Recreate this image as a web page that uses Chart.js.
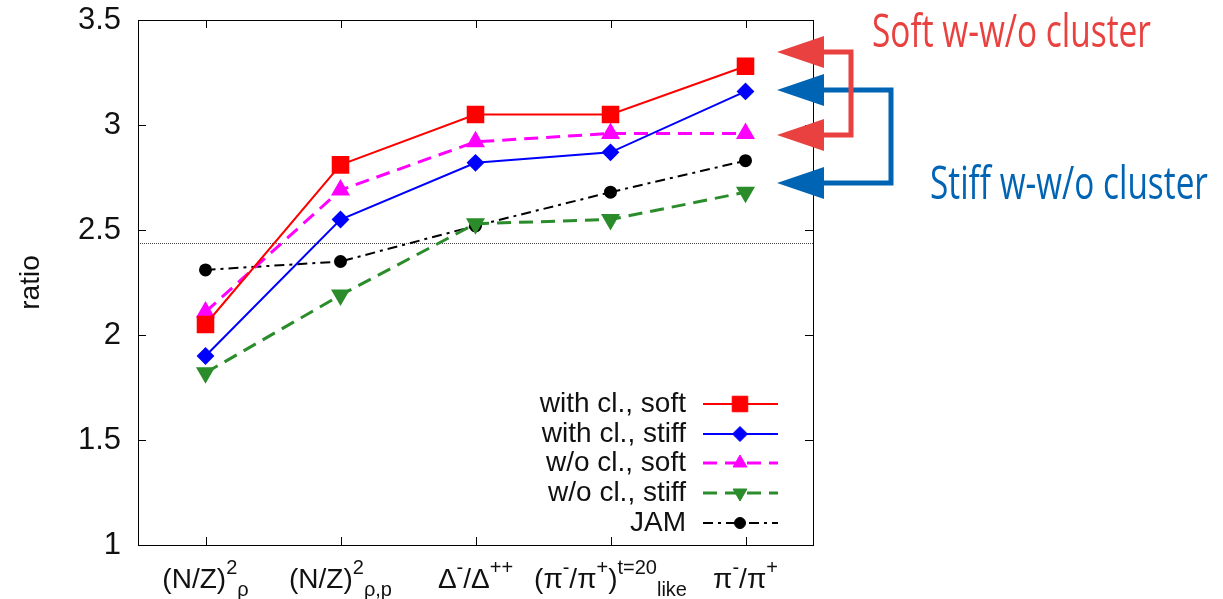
<!DOCTYPE html>
<html><head><meta charset="utf-8">
<script src="https://cdn.jsdelivr.net/npm/chart.js@4/dist/chart.umd.min.js"></script>
<style>html,body{margin:0;padding:0;background:#fff}#wrap{width:1223px;height:599px;position:relative}</style>
</head><body><div id="wrap"><canvas id="c" width="1223" height="599"></canvas></div>
<script>
// ---- data ----
const categories = ['(N/Z)^{2}_{ρ}', '(N/Z)^{2}_{ρ,p}', 'Δ^{-}/Δ^{++}', '(π^{-}/π^{+})^{t=20}_{like}', 'π^{-}/π^{+}'];
const withClSoft  = [2.05, 2.81, 3.05, 3.05, 3.28];
const withClStiff = [1.90, 2.55, 2.82, 2.87, 3.16];
const woClSoft    = [2.11, 2.69, 2.92, 2.96, 2.96];
const woClStiff   = [1.82, 2.19, 2.53, 2.55, 2.68];
const jamValues   = [2.31, 2.35, 2.52, 2.68, 2.83];
const seriesLabels = ['with cl., soft', 'with cl., stiff', 'w/o cl., soft', 'w/o cl., stiff', 'JAM'];
const yTickValues = [1, 1.5, 2, 2.5, 3, 3.5];
const yTickLabels = ['1', '1.5', '2', '2.5', '3', '3.5'];
const referenceLevel = 2.44;
const yTitle = 'ratio';
const annotationTexts = ['Soft w-w/o cluster', 'Stiff w-w/o cluster'];

// ---- styles ----
const FONT = "'Liberation Sans', Arial, Helvetica, sans-serif";
const FS = 28;
const TICK_FS = 31;

function parseRich(str) {
  const re = /\^\{([^}]*)\}|_\{([^}]*)\}|([^^_]+)/g;
  const out = []; let m;
  while ((m = re.exec(str)) !== null) {
    if (m[1] !== undefined) out.push({t: m[1], mode: 'sup'});
    else if (m[2] !== undefined) out.push({t: m[2], mode: 'sub'});
    else out.push({t: m[3], mode: 'n'});
  }
  return out;
}
function drawRich(ctx, str, cx, baseY) {
  const parts = parseRich(str);
  let total = 0;
  parts.forEach(p => {
    p.size = p.mode === 'n' ? FS : Math.round(FS * 0.72);
    ctx.font = p.size + 'px ' + FONT;
    p.w = ctx.measureText(p.t).width; total += p.w;
  });
  let xx = cx - total / 2;
  parts.forEach(p => {
    ctx.font = p.size + 'px ' + FONT;
    const off = p.mode === 'sup' ? -14 : (p.mode === 'sub' ? 8 : 0);
    ctx.fillText(p.t, xx, baseY + off);
    xx += p.w;
  });
}

const overlay = {
  id: 'overlay',
  beforeDatasetsDraw(chart) {
    const {ctx, chartArea: a, scales: {y}} = chart;
    const py = Math.round(y.getPixelForValue(referenceLevel)) + 0.5;
    ctx.save();
    ctx.strokeStyle = '#444'; ctx.lineWidth = 1; ctx.setLineDash([1, 1]);
    ctx.beginPath(); ctx.moveTo(a.left, py); ctx.lineTo(a.right, py); ctx.stroke();
    ctx.restore();
  },
  afterDraw(chart) {
    const {ctx, chartArea: a, scales: {x, y}} = chart;
    ctx.save();
    ctx.strokeStyle = '#000'; ctx.lineWidth = 1; ctx.setLineDash([]);
    ctx.strokeRect(Math.round(a.left) + 0.5, Math.round(a.top) + 0.5, Math.round(a.right - a.left), Math.round(a.bottom - a.top));
    const tl = 8;
    ctx.beginPath();
    yTickValues.forEach(v => {
      const py = Math.round(y.getPixelForValue(v)) + 0.5;
      ctx.moveTo(a.left, py); ctx.lineTo(a.left + tl, py);
      ctx.moveTo(a.right, py); ctx.lineTo(a.right - tl, py);
    });
    categories.forEach((c, i) => {
      const px = Math.round(x.getPixelForValue(i)) + 0.5;
      ctx.moveTo(px, a.bottom); ctx.lineTo(px, a.bottom - tl);
      ctx.moveTo(px, a.top); ctx.lineTo(px, a.top + tl);
    });
    ctx.stroke();

    // x labels (rich text)
    ctx.fillStyle = '#111'; ctx.textAlign = 'left'; ctx.textBaseline = 'alphabetic';
    categories.forEach((c, i) => drawRich(ctx, c, x.getPixelForValue(i), 588));

    // legend
    const rows = [404, 434, 463, 493, 523];
    chart.data.datasets.forEach((ds, i) => {
      const ry = rows[i];
      ctx.font = FS + 'px ' + FONT; ctx.textAlign = 'right'; ctx.textBaseline = 'middle';
      ctx.fillStyle = '#111';
      ctx.fillText(ds.label, 686, ry);
      ctx.strokeStyle = ds.borderColor; ctx.lineWidth = ds.borderWidth;
      ctx.setLineDash(ds.borderDash || []);
      ctx.beginPath(); ctx.moveTo(703, ry); ctx.lineTo(778, ry); ctx.stroke();
      ctx.setLineDash([]);
      ctx.fillStyle = ds.pointBackgroundColor; ctx.strokeStyle = ds.pointBorderColor; ctx.lineWidth = 1;
      Chart.helpers.drawPoint(ctx, {pointStyle: ds.pointStyle, rotation: ds.pointRotation || 0, radius: ds.pointRadius, borderWidth: 1}, 740, ry);
    });

    // annotations
    function arrow(yy, color) {
      ctx.fillStyle = color;
      ctx.beginPath(); ctx.moveTo(777, yy); ctx.lineTo(824, yy - 16); ctx.lineTo(824, yy + 16); ctx.closePath(); ctx.fill();
    }
    function bracket(y1, y2, bx, color) {
      ctx.strokeStyle = color; ctx.lineWidth = 5; ctx.lineJoin = 'miter';
      ctx.beginPath(); ctx.moveTo(815, y1); ctx.lineTo(bx, y1); ctx.lineTo(bx, y2); ctx.lineTo(815, y2); ctx.stroke();
      arrow(y1, color); arrow(y2, color);
    }
    const redC = '#e8413f', blueC = '#0064b4';
    bracket(90, 183, 891, blueC);
    bracket(52, 135, 851, redC);

    function condText(t, x0, base, w, color) {
      ctx.save();
      ctx.font = "46px 'Open Sans', sans-serif"; ctx.textAlign = 'left'; ctx.textBaseline = 'alphabetic';
      const mw = ctx.measureText(t).width;
      ctx.translate(x0, base); ctx.scale(w / mw, 1);
      ctx.fillStyle = color; ctx.fillText(t, 0, 0);
      ctx.restore();
    }
    condText(annotationTexts[0], 872, 47, 279, redC);
    condText(annotationTexts[1], 930, 199, 278, blueC);
    ctx.restore();
  }
};

const datasets = [
  {label: seriesLabels[0], data: withClSoft, borderColor: '#ff0000', backgroundColor: '#ff0000', borderWidth: 2,
   pointStyle: 'rect', pointRadius: 11, pointBackgroundColor: '#ff0000', pointBorderColor: '#ff0000'},
  {label: seriesLabels[1], data: withClStiff, borderColor: '#0000ff', backgroundColor: '#0000ff', borderWidth: 2,
   pointStyle: 'rectRot', pointRadius: 7.5, pointBackgroundColor: '#0000ff', pointBorderColor: '#0000ff'},
  {label: seriesLabels[2], data: woClSoft, borderColor: '#ff00ff', backgroundColor: '#ff00ff', borderWidth: 3, borderDash: [14, 8],
   pointStyle: 'triangle', pointRadius: 8, pointBackgroundColor: '#ff00ff', pointBorderColor: '#ff00ff'},
  {label: seriesLabels[3], data: woClStiff, borderColor: '#2a8c2a', backgroundColor: '#2a8c2a', borderWidth: 3, borderDash: [14, 8],
   pointStyle: 'triangle', pointRotation: 180, pointRadius: 8, pointBackgroundColor: '#2a8c2a', pointBorderColor: '#2a8c2a'},
  {label: seriesLabels[4], data: jamValues, borderColor: '#000000', backgroundColor: '#000000', borderWidth: 2, borderDash: [10, 5, 3, 5],
   pointStyle: 'circle', pointRadius: 5.5, pointBackgroundColor: '#000000', pointBorderColor: '#000000'}
];

new Chart(document.getElementById('c'), {
  type: 'line',
  data: {labels: categories, datasets},
  options: {
    responsive: false, animation: false, devicePixelRatio: 1,
    layout: {padding: {left: 0, top: 20, right: 410, bottom: 0}},
    plugins: {legend: {display: false}, tooltip: {enabled: false}},
    elements: {line: {tension: 0}, point: {borderWidth: 1}},
    scales: {
      x: {
        type: 'category', offset: true,
        grid: {display: false, drawTicks: false}, border: {display: false},
        ticks: {display: false},
        afterFit: s => { s.height = 54; s.paddingLeft = 0; s.paddingRight = 0; }
      },
      y: {
        min: 1, max: 3.5,
        afterBuildTicks: s => { s.ticks = yTickValues.map(v => ({value: v})); },
        grid: {display: false, drawTicks: false}, border: {display: false},
        ticks: {font: {family: FONT, size: TICK_FS}, color: '#111', padding: 17,
                callback: v => yTickLabels[yTickValues.indexOf(v)] ?? String(v)},
        title: {display: true, text: yTitle, font: {family: FONT, size: FS}, color: '#111', padding: {top: 14, bottom: 0}},
        afterFit: s => { s.width = 138; s.paddingTop = 0; s.paddingBottom = 0; }
      }
    }
  },
  plugins: [overlay]
});
</script>
</body></html>
